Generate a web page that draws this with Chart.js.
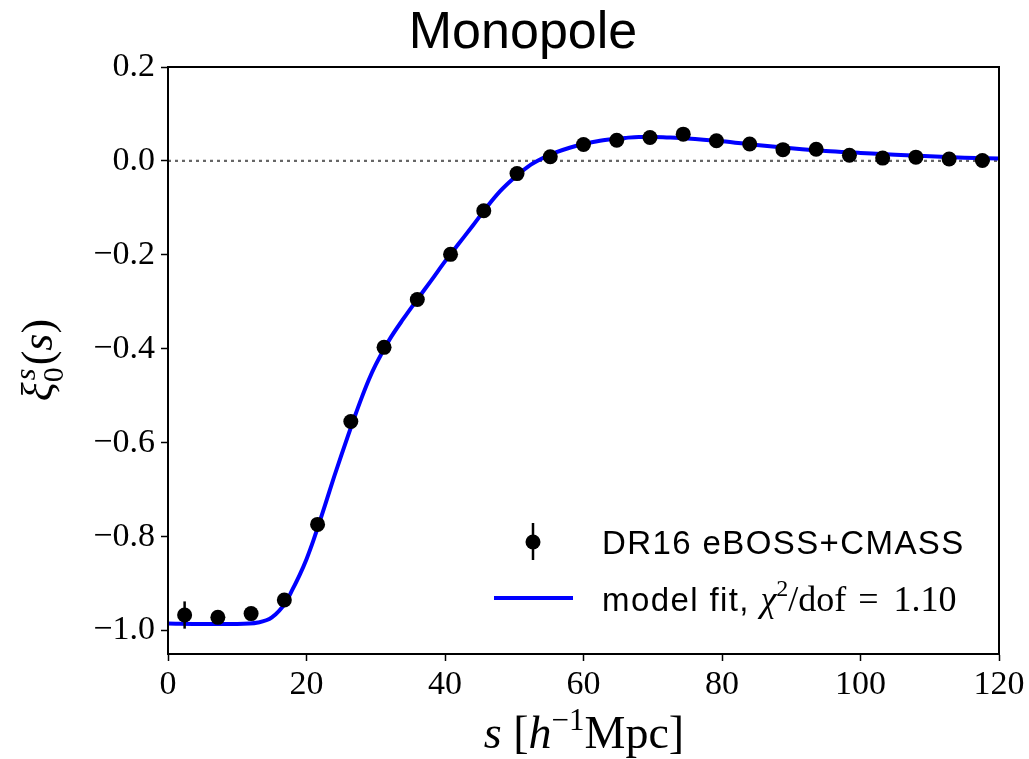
<!DOCTYPE html>
<html>
<head>
<meta charset="utf-8">
<script src="https://cdn.jsdelivr.net/npm/chart.js@4.4.1/dist/chart.umd.min.js"></script>
<style>
  html, body { margin: 0; padding: 0; background: #fff; }
  #wrap { width: 1029px; height: 759px; position: relative; }
</style>
</head>
<body>
<div id="wrap"><canvas id="mono"></canvas></div>
<script>
// measured monopole, bin centres in h^-1 Mpc
const sBins = [2.4, 7.2, 12.0, 16.8, 21.6, 26.4, 31.2, 36.0, 40.8, 45.6, 50.4, 55.2,
  60.0, 64.8, 69.6, 74.4, 79.2, 84.0, 88.8, 93.6, 98.4, 103.2, 108.0, 112.8, 117.6];
const xiData = [-0.967, -0.972, -0.964, -0.935, -0.774, -0.555, -0.397, -0.295, -0.199, -0.106,
  -0.027, 0.009, 0.035, 0.044, 0.050, 0.057, 0.043, 0.036, 0.024, 0.025, 0.012, 0.006, 0.008, 0.004, 0.001];
const xiErr = [0.029, 0.012, 0.010, 0.009, 0.009, 0.008, 0.008, 0.007, 0.007, 0.006,
  0.006, 0.006, 0.005, 0.005, 0.005, 0.005, 0.005, 0.005, 0.005, 0.005, 0.005, 0.005, 0.005, 0.005, 0.005];

// best-fit model curve
const sModel = [0, 5, 10, 13, 15, 17, 18, 19, 20, 21, 22, 23, 24, 25, 26, 27, 28, 29, 30, 32, 34, 36,
  38, 40, 42, 44, 46, 48, 50, 52, 54, 56, 58, 60, 62, 64, 66, 68, 70, 72, 75, 80, 85, 90, 95, 100,
  105, 110, 115, 120];
const xiModel = [-0.985, -0.986, -0.986, -0.983, -0.972, -0.940, -0.912, -0.882, -0.848, -0.808,
  -0.764, -0.718, -0.672, -0.628, -0.585, -0.543, -0.503, -0.466, -0.434, -0.380, -0.336, -0.295,
  -0.255, -0.214, -0.176, -0.138, -0.099, -0.064, -0.036, -0.012, 0.005, 0.018, 0.028, 0.036,
  0.042, 0.046, 0.049, 0.051, 0.051, 0.050, 0.048, 0.042, 0.034, 0.027, 0.021, 0.017, 0.013,
  0.010, 0.007, 0.005];

const xTicks = [0, 20, 40, 60, 80, 100, 120];
const yTicks = [-1.0, -0.8, -0.6, -0.4, -0.2, 0.0, 0.2];

const serif = '"Liberation Serif", "DejaVu Serif", serif';
const sans = '"Liberation Sans", Arial, sans-serif';

// draw a run of text pieces: [text, font, dy, spacing]
function richText(ctx, parts, x, y, align) {
  const widthOf = p => {
    ctx.font = p[1];
    ctx.letterSpacing = (p[3] || 0) + 'px';
    return ctx.measureText(p[0]).width;
  };
  const w = parts.reduce((sum, p) => sum + widthOf(p), 0);
  let cx = align === 'center' ? x - w / 2 : x;
  ctx.textBaseline = 'alphabetic';
  ctx.textAlign = 'left';
  parts.forEach(p => {
    const pw = widthOf(p);
    ctx.fillText(p[0], cx, y + (p[2] || 0));
    cx += pw;
  });
  ctx.letterSpacing = '0px';
}

const decorations = {
  id: 'decorations',
  beforeDatasetsDraw(chart) {
    const { ctx, chartArea: a, scales: { y } } = chart;
    // dotted zero line
    ctx.save();
    ctx.strokeStyle = '#666';
    ctx.lineWidth = 2.2;
    ctx.setLineDash([3, 4]);
    ctx.beginPath();
    ctx.moveTo(a.left, y.getPixelForValue(0));
    ctx.lineTo(a.right, y.getPixelForValue(0));
    ctx.stroke();
    ctx.restore();
  },
  afterDatasetsDraw(chart) {
    const { ctx, chartArea: a, scales: { x, y } } = chart;
    ctx.save();
    // error bars
    ctx.strokeStyle = '#000';
    ctx.lineWidth = 2.5;
    sBins.forEach((s, i) => {
      const px = x.getPixelForValue(s);
      ctx.beginPath();
      ctx.moveTo(px, y.getPixelForValue(xiData[i] - xiErr[i]));
      ctx.lineTo(px, y.getPixelForValue(xiData[i] + xiErr[i]));
      ctx.stroke();
    });
    // frame
    ctx.lineWidth = 2;
    ctx.strokeRect(a.left, a.top, a.right - a.left, a.bottom - a.top);

    // legend
    ctx.fillStyle = '#000';
    ctx.lineWidth = 2.5;
    ctx.beginPath();
    ctx.moveTo(533, 523); ctx.lineTo(533, 560); ctx.stroke();
    ctx.beginPath(); ctx.arc(533, 542, 7.5, 0, Math.PI * 2); ctx.fill();
    ctx.strokeStyle = '#0000ff';
    ctx.lineWidth = 4;
    ctx.beginPath(); ctx.moveTo(494, 598); ctx.lineTo(573, 598); ctx.stroke();
    ctx.fillStyle = '#000';
    richText(ctx, [['DR16 eBOSS+CMASS', '33px ' + sans, 0, 1.4]], 602, 554, 'left');
    richText(ctx, [
      ['model fit, ', '33px ' + sans, 0, 1.4],
      ['χ', 'italic 36px ' + serif],
      ['2', '24px ' + serif, -15],
      ['/dof', '36px ' + serif],
      [' = ', '36px ' + serif, 0, 3],
      ['1.10', '36px ' + serif]
    ], 602, 611, 'left');

    // title
    ctx.font = '52px ' + sans;
    ctx.textAlign = 'center';
    ctx.textBaseline = 'alphabetic';
    ctx.fillText('Monopole', 523, 48);

    // x axis title
    richText(ctx, [
      ['s', 'italic 46px ' + serif],
      [' [', '46px ' + serif],
      ['h', 'italic 46px ' + serif],
      ['−1', '31px ' + serif, -18],
      ['Mpc]', '46px ' + serif]
    ], 584, 748, 'center');

    // y axis title, rotated: local +y points toward the plot
    ctx.translate(52, 360);
    ctx.rotate(-Math.PI / 2);
    ctx.textAlign = 'left';
    ctx.textBaseline = 'alphabetic';
    const big = 'italic 44px ' + serif, small = 'italic 30px ' + serif;
    ctx.font = big; const wXi = ctx.measureText('ξ').width;
    ctx.font = small; const wSup = ctx.measureText('s').width;
    ctx.font = '30px ' + serif; const wSub = ctx.measureText('0').width;
    const wIdx = Math.max(wSup, wSub) + 2;
    ctx.font = '44px ' + serif; const wPar = ctx.measureText('(').width;
    ctx.font = big; const wS = ctx.measureText('s').width;
    const wTot = wXi + wIdx + wPar * 2 + wS;
    let cx = -wTot / 2;
    ctx.font = big; ctx.fillText('ξ', cx, 0); cx += wXi;
    ctx.font = small; ctx.fillText('s', cx + 2, -17);
    ctx.font = '30px ' + serif; ctx.fillText('0', cx, 11);
    cx += wIdx;
    ctx.font = '44px ' + serif; ctx.fillText('(', cx, 0); cx += wPar;
    ctx.font = big; ctx.fillText('s', cx, 0); cx += wS;
    ctx.font = '44px ' + serif; ctx.fillText(')', cx, 0);
    ctx.restore();
  }
};

new Chart(document.getElementById('mono'), {
  data: {
    datasets: [
      {
        type: 'scatter', label: 'DR16 eBOSS+CMASS', order: 0,
        data: sBins.map((s, i) => ({ x: s, y: xiData[i] })),
        pointRadius: 7.5, pointBackgroundColor: '#000', pointBorderWidth: 0
      },
      {
        type: 'line', label: 'model fit', order: 1,
        data: sModel.map((s, i) => ({ x: s, y: xiModel[i] })),
        borderColor: '#0000ff', borderWidth: 4, pointRadius: 0,
        cubicInterpolationMode: 'monotone', fill: false
      }
    ]
  },
  options: {
    responsive: true, maintainAspectRatio: false, animation: false,
    layout: { padding: { top: 67, right: 30, left: 0, bottom: 0 } },
    plugins: { legend: { display: false }, tooltip: { enabled: false } },
    scales: {
      x: {
        type: 'linear', min: 0, max: 120,
        afterBuildTicks: s => { s.ticks = xTicks.map(v => ({ value: v })); },
        afterFit: s => { s.height = 105; },
        grid: { drawOnChartArea: false, tickLength: 7, tickWidth: 1.5, color: '#000' },
        border: { color: '#000', width: 2 },
        ticks: { color: '#000', font: { family: serif, size: 34 }, padding: 4, maxRotation: 0,
          callback: v => String(v) }
      },
      y: {
        type: 'linear', min: -1.05, max: 0.2,
        afterBuildTicks: s => { s.ticks = yTicks.map(v => ({ value: v })); },
        afterFit: s => { s.width = 168; },
        grid: { drawOnChartArea: false, tickLength: 7, tickWidth: 1.5, color: '#000' },
        border: { color: '#000', width: 2 },
        ticks: { color: '#000', font: { family: serif, size: 34 }, padding: 6,
          callback: v => (v < 0 ? '−' : '') + Math.abs(v).toFixed(1) }
      }
    }
  },
  plugins: [decorations]
});
</script>
</body>
</html>
